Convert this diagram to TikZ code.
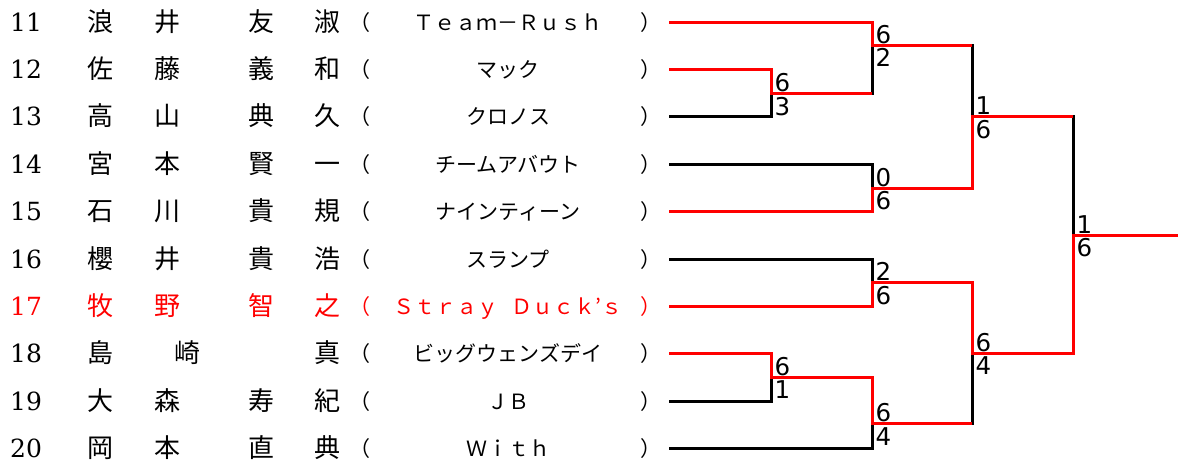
\documentclass[tikz,border=0pt]{standalone}
\usepackage{fontspec}
\setmainfont{DejaVu Serif}
\newfontfamily\jpfont{Noto Sans CJK JP}
\newfontfamily\scorefont{DejaVu Sans}
\usetikzlibrary{calc}
\definecolor{WinRed}{RGB}{255,0,0}
\tikzset{
  num/.style={anchor=base west,inner sep=0pt,yshift=-9pt,font=\fontsize{25}{25}\selectfont},
  kan/.style={anchor=base,inner sep=0pt,yshift=-9.5pt,font=\jpfont\fontsize{26}{26}\selectfont},
  team/.style={anchor=base,inner sep=0pt,yshift=-8pt,font=\jpfont\fontsize{21}{21}\selectfont},
  par/.style={team,anchor=base west},
  hot/.style={text=WinRed},
  bline/.style={draw=black,line width=3pt},
  rline/.style={draw=WinRed,line width=3pt},
  sctop/.style={anchor=base west,inner sep=0pt,xshift=3.5pt,yshift=2pt,font=\scorefont\fontsize{24.5}{24.5}\selectfont},
  scbot/.style={anchor=north west,inner sep=0pt,xshift=3.5pt,yshift=-3.5pt,font=\scorefont\fontsize{24.5}{24.5}\selectfont},
}

\begin{document}
\begin{tikzpicture}[x=1pt,y=-1pt]
\useasboundingbox (0,0) rectangle (1178,464);
% players
\node[num] (n11) at (10,22) {11};
\node[kan] (a11) at (100,22) {浪};
\node[kan] (b11) at (167,22) {井};
\node[kan] (c11) at (261,22) {友};
\node[kan] (d11) at (327,22) {淑};
\node[par] (l11) at (349,22) {（};
\node[team] (t11) at (508,22) {Ｔｅａｍ－Ｒｕｓｈ};
\node[par] (r11) at (640,22) {）};
\node[num] (n12) at (10,69.3) {12};
\node[kan] (a12) at (100,69.3) {佐};
\node[kan] (b12) at (167,69.3) {藤};
\node[kan] (c12) at (261,69.3) {義};
\node[kan] (d12) at (327,69.3) {和};
\node[par] (l12) at (349,69.3) {（};
\node[team] (t12) at (508,69.3) {マック};
\node[par] (r12) at (640,69.3) {）};
\node[num] (n13) at (10,116.3) {13};
\node[kan] (a13) at (100,116.3) {高};
\node[kan] (b13) at (167,116.3) {山};
\node[kan] (c13) at (261,116.3) {典};
\node[kan] (d13) at (327,116.3) {久};
\node[par] (l13) at (349,116.3) {（};
\node[team] (t13) at (508,116.3) {クロノス};
\node[par] (r13) at (640,116.3) {）};
\node[num] (n14) at (10,164.3) {14};
\node[kan] (a14) at (100,164.3) {宮};
\node[kan] (b14) at (167,164.3) {本};
\node[kan] (c14) at (261,164.3) {賢};
\node[kan] (d14) at (327,164.3) {一};
\node[par] (l14) at (349,164.3) {（};
\node[team] (t14) at (508,164.3) {チームアバウト};
\node[par] (r14) at (640,164.3) {）};
\node[num] (n15) at (10,211) {15};
\node[kan] (a15) at (100,211) {石};
\node[kan] (b15) at (167,211) {川};
\node[kan] (c15) at (261,211) {貴};
\node[kan] (d15) at (327,211) {規};
\node[par] (l15) at (349,211) {（};
\node[team] (t15) at (508,211) {ナインティーン};
\node[par] (r15) at (640,211) {）};
\node[num] (n16) at (10,259.3) {16};
\node[kan] (a16) at (100,259.3) {櫻};
\node[kan] (b16) at (167,259.3) {井};
\node[kan] (c16) at (261,259.3) {貴};
\node[kan] (d16) at (327,259.3) {浩};
\node[par] (l16) at (349,259.3) {（};
\node[team] (t16) at (508,259.3) {スランプ};
\node[par] (r16) at (640,259.3) {）};
\node[num,hot] (n17) at (10,306.3) {17};
\node[kan,hot] (a17) at (100,306.3) {牧};
\node[kan,hot] (b17) at (167,306.3) {野};
\node[kan,hot] (c17) at (261,306.3) {智};
\node[kan,hot] (d17) at (327,306.3) {之};
\node[par,hot] (l17) at (349,306.3) {（};
\node[team,hot] (t17) at (508,306.3) {Ｓｔｒａｙ\hspace{0.65em}Ｄｕｃｋ’ｓ};
\node[par,hot] (r17) at (640,306.3) {）};
\node[num] (n18) at (10,353.3) {18};
\node[kan] (a18) at (100,353.3) {島};
\node[kan] (b18) at (187,353.3) {崎};
\node[kan] (d18) at (327,353.3) {真};
\node[par] (l18) at (349,353.3) {（};
\node[team] (t18) at (508,353.3) {ビッグウェンズデイ};
\node[par] (r18) at (640,353.3) {）};
\node[num] (n19) at (10,401.3) {19};
\node[kan] (a19) at (100,401.3) {大};
\node[kan] (b19) at (167,401.3) {森};
\node[kan] (c19) at (261,401.3) {寿};
\node[kan] (d19) at (327,401.3) {紀};
\node[par] (l19) at (349,401.3) {（};
\node[team] (t19) at (508,401.3) {ＪＢ};
\node[par] (r19) at (640,401.3) {）};
\node[num] (n20) at (10,448.3) {20};
\node[kan] (a20) at (100,448.3) {岡};
\node[kan] (b20) at (167,448.3) {本};
\node[kan] (c20) at (261,448.3) {直};
\node[kan] (d20) at (327,448.3) {典};
\node[par] (l20) at (349,448.3) {（};
\node[team] (t20) at (508,448.3) {Ｗｉｔｈ};
\node[par] (r20) at (640,448.3) {）};
% bracket points
\coordinate (p11) at (669,22.5);
\coordinate (p12) at (669,69.3);
\coordinate (p13) at (669,116.3);
\coordinate (p14) at (669,164.3);
\coordinate (p15) at (669,211);
\coordinate (p16) at (669,259.3);
\coordinate (p17) at (669,306.3);
\coordinate (p18) at (669,353.3);
\coordinate (p19) at (669,401.3);
\coordinate (p20) at (669,448.3);
\coordinate (j12) at (771,93.3);
\coordinate (j1) at (872,45);
\coordinate (j2) at (872,188);
\coordinate (j3) at (972,116.3);
\coordinate (j4) at (872,282.3);
\coordinate (j5) at (771,377);
\coordinate (j6) at (872,423.7);
\coordinate (j7) at (972,353);
\coordinate (jf) at (1073,235);
\coordinate (fin) at (1178,235);
% whole bracket
\draw[bline] (p11) -| (j1);
\draw[bline] (p12) -| (j12);
\draw[bline] (p13) -| (j12);
\draw[bline] (j12) -| (j1);
\draw[bline] (j1) -| (j3);
\draw[bline] (p14) -| (j2);
\draw[bline] (p15) -| (j2);
\draw[bline] (j2) -| (j3);
\draw[bline] (j3) -| (jf);
\draw[bline] (p16) -| (j4);
\draw[bline] (p17) -| (j4);
\draw[bline] (j4) -| (j7);
\draw[bline] (p18) -| (j5);
\draw[bline] (p19) -| (j5);
\draw[bline] (j5) -| (j6);
\draw[bline] (p20) -| (j6);
\draw[bline] (j6) -| (j7);
\draw[bline] (j7) -| (jf);
\draw[bline] (jf) -- (fin);
% winners
\draw[rline] (p11) -| (j1) -- (j1 -| j3);
\draw[rline] (p12) -| (j12) -- (j12 -| j1);
\draw[rline] (p15) -| (j2) -| (j3) -- (j3 -| jf);
\draw[rline] (p17) -| (j4) -| (j7) -| (jf) -- (fin);
\draw[rline] (p18) -| (j5) -| (j6) -- (j6 -| j7);
% scores
\node[sctop] (s12a) at (j12) {6};
\node[scbot] (s12b) at (j12) {3};
\node[sctop] (s1a) at (j1) {6};
\node[scbot] (s1b) at (j1) {2};
\node[sctop] (s2a) at (j2) {0};
\node[scbot] (s2b) at (j2) {6};
\node[sctop] (s3a) at (j3) {1};
\node[scbot] (s3b) at (j3) {6};
\node[sctop] (sfa) at (jf) {1};
\node[scbot] (sfb) at (jf) {6};
\node[sctop] (s4a) at (j4) {2};
\node[scbot] (s4b) at (j4) {6};
\node[sctop] (s5a) at (j5) {6};
\node[scbot] (s5b) at (j5) {1};
\node[sctop] (s6a) at (j6) {6};
\node[scbot] (s6b) at (j6) {4};
\node[sctop] (s7a) at (j7) {6};
\node[scbot] (s7b) at (j7) {4};
\end{tikzpicture}
\end{document}
